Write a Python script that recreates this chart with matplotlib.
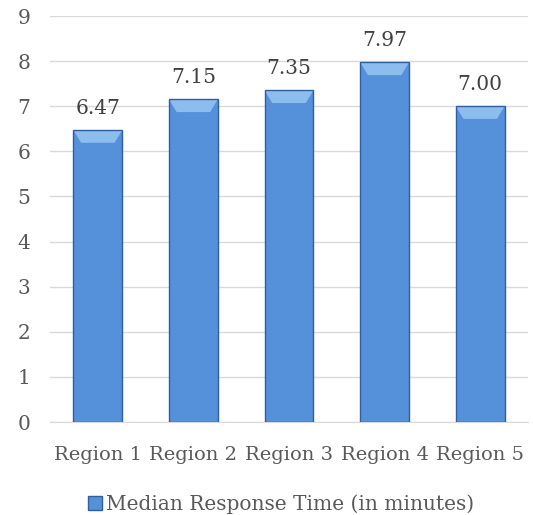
import matplotlib
matplotlib.use("Agg")
import matplotlib.pyplot as plt
from matplotlib.patches import Polygon, Patch
import numpy as np

categories = ["Region 1", "Region 2", "Region 3", "Region 4", "Region 5"]
values = [6.47, 7.15, 7.35, 7.97, 7.00]
yticks = [0, 1, 2, 3, 4, 5, 6, 7, 8, 9]
series_name = "Median Response Time (in minutes)"

plt.rcParams['font.family'] = ['DejaVu Serif']
text_color = '#595959'

fig = plt.figure(figsize=(5.33, 5.15), dpi=100)
ax = fig.add_axes([50 / 533, 1 - 422 / 515, 478 / 533, 406 / 515])

x = np.arange(len(categories))
width = 0.51
main = '#5590DB'
edge = '#2F5F9F'
bevel = '#8DBCEF'

bars = ax.bar(x, values, width=width, color=main, edgecolor='none', zorder=3)
# bevel top trapezoid for each bar, derived from the bar geometry
inset = 0.08
bh = 0.28
for b in bars:
    x0 = b.get_x()
    x1 = x0 + b.get_width()
    top = b.get_height()
    poly = Polygon([(x0, top), (x1, top), (x1 - inset, top - bh), (x0 + inset, top - bh)],
                   closed=True, facecolor=bevel, edgecolor='none', zorder=4)
    ax.add_patch(poly)
ax.bar(x, values, width=width, color='none', edgecolor=edge, linewidth=1.0, zorder=5)

for xi, v in zip(x, values):
    ax.text(xi, v + 0.36, f"{v:.2f}", ha='center', va='baseline', fontsize=14.5, color='#404040')

ax.set_ylim(0, 9)
ax.set_xlim(-0.5, len(categories) - 0.5)
ax.set_yticks(yticks)
ax.set_xticks(x)
ax.set_xticklabels(categories)
ax.tick_params(axis='both', length=0, colors=text_color)
ax.tick_params(axis='y', pad=14, labelsize=14.5)
ax.tick_params(axis='x', pad=17, labelsize=14)
ax.grid(axis='y', color='#D9D9D9', linewidth=1.0, zorder=0)
for s in ['top', 'right', 'left']:
    ax.spines[s].set_visible(False)
ax.spines['bottom'].set_color('#D9D9D9')

h = Patch(facecolor=main, edgecolor=edge, label=series_name)
fig.legend(handles=[h], loc='center', bbox_to_anchor=(0.527, 0.021), frameon=False,
           fontsize=14.5, handlelength=0.7, handleheight=0.7, handletextpad=0.2,
           labelcolor=text_color, borderpad=0, borderaxespad=0)

fig.savefig("out.png", dpi=100)
